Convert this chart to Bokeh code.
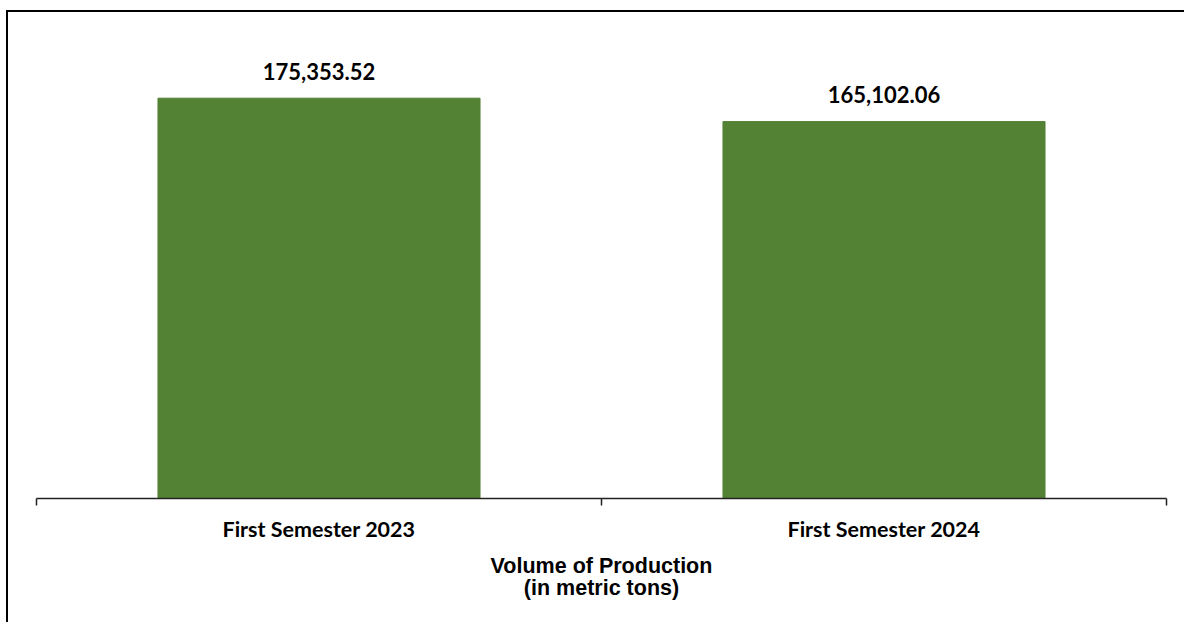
from bokeh.plotting import figure
from bokeh.models import FixedTicker, Range1d
from bokeh.core.properties import value
from bokeh.embed import file_html
from bokeh.resources import INLINE

categories = ["First Semester 2023", "First Semester 2024"]
volumes = [175353.52, 165102.06]
value_labels = ["175,353.52", "165,102.06"]
axis_title = "Volume of Production\n(in metric tons)"
y_max = 205000

positions = [i + 0.5 for i in range(len(categories))]
boundaries = list(range(len(categories) + 1))

W, H = 1178, 612
p = figure(width=W, height=H, x_range=Range1d(0, len(categories)),
           y_range=Range1d(0, y_max), output_backend="svg",
           toolbar_location=None, min_border_left=28, min_border_right=20,
           min_border_top=18, min_border_bottom=126)

p.styles = {"border-left": "2px solid black", "border-top": "2px solid black",
            "margin-top": "10px", "margin-left": "6px"}

p.outline_line_color = None
p.xgrid.visible = False
p.ygrid.visible = False
p.yaxis.visible = False
p.background_fill_color = "white"
p.border_fill_color = "white"

p.vbar(x=positions, top=volumes, width=0.57, color="#548235")
p.text(x=positions, y=volumes, text=value_labels, text_align="center",
       text_baseline="alphabetic", y_offset=-27, text_font=value("Lato"),
       text_font_style="bold", text_font_size="22px", text_color="black")

ax = p.xaxis[0]
ax.ticker = FixedTicker(ticks=positions, minor_ticks=boundaries)
ax.major_label_overrides = {pos: cat for pos, cat in zip(positions, categories)}
ax.major_tick_in = 0
ax.major_tick_out = 0
ax.minor_tick_in = 0
ax.minor_tick_out = 7
ax.minor_tick_line_color = "#222222"
ax.minor_tick_line_width = 1.5
ax.axis_line_color = "#222222"
ax.axis_line_width = 1.5
ax.major_label_text_font = "Lato"
ax.major_label_text_font_style = "bold"
ax.major_label_text_font_size = "21.5px"
ax.major_label_text_color = "black"
ax.major_label_standoff = 10
ax.axis_label = axis_title
ax.axis_label_text_font = "Liberation Sans"
ax.axis_label_text_font_style = "bold"
ax.axis_label_text_font_size = "21.5px"
ax.axis_label_text_color = "black"
ax.axis_label_text_line_height = 0.95
ax.axis_label_standoff = 9

open("out.html", "w").write(file_html(p, INLINE))
